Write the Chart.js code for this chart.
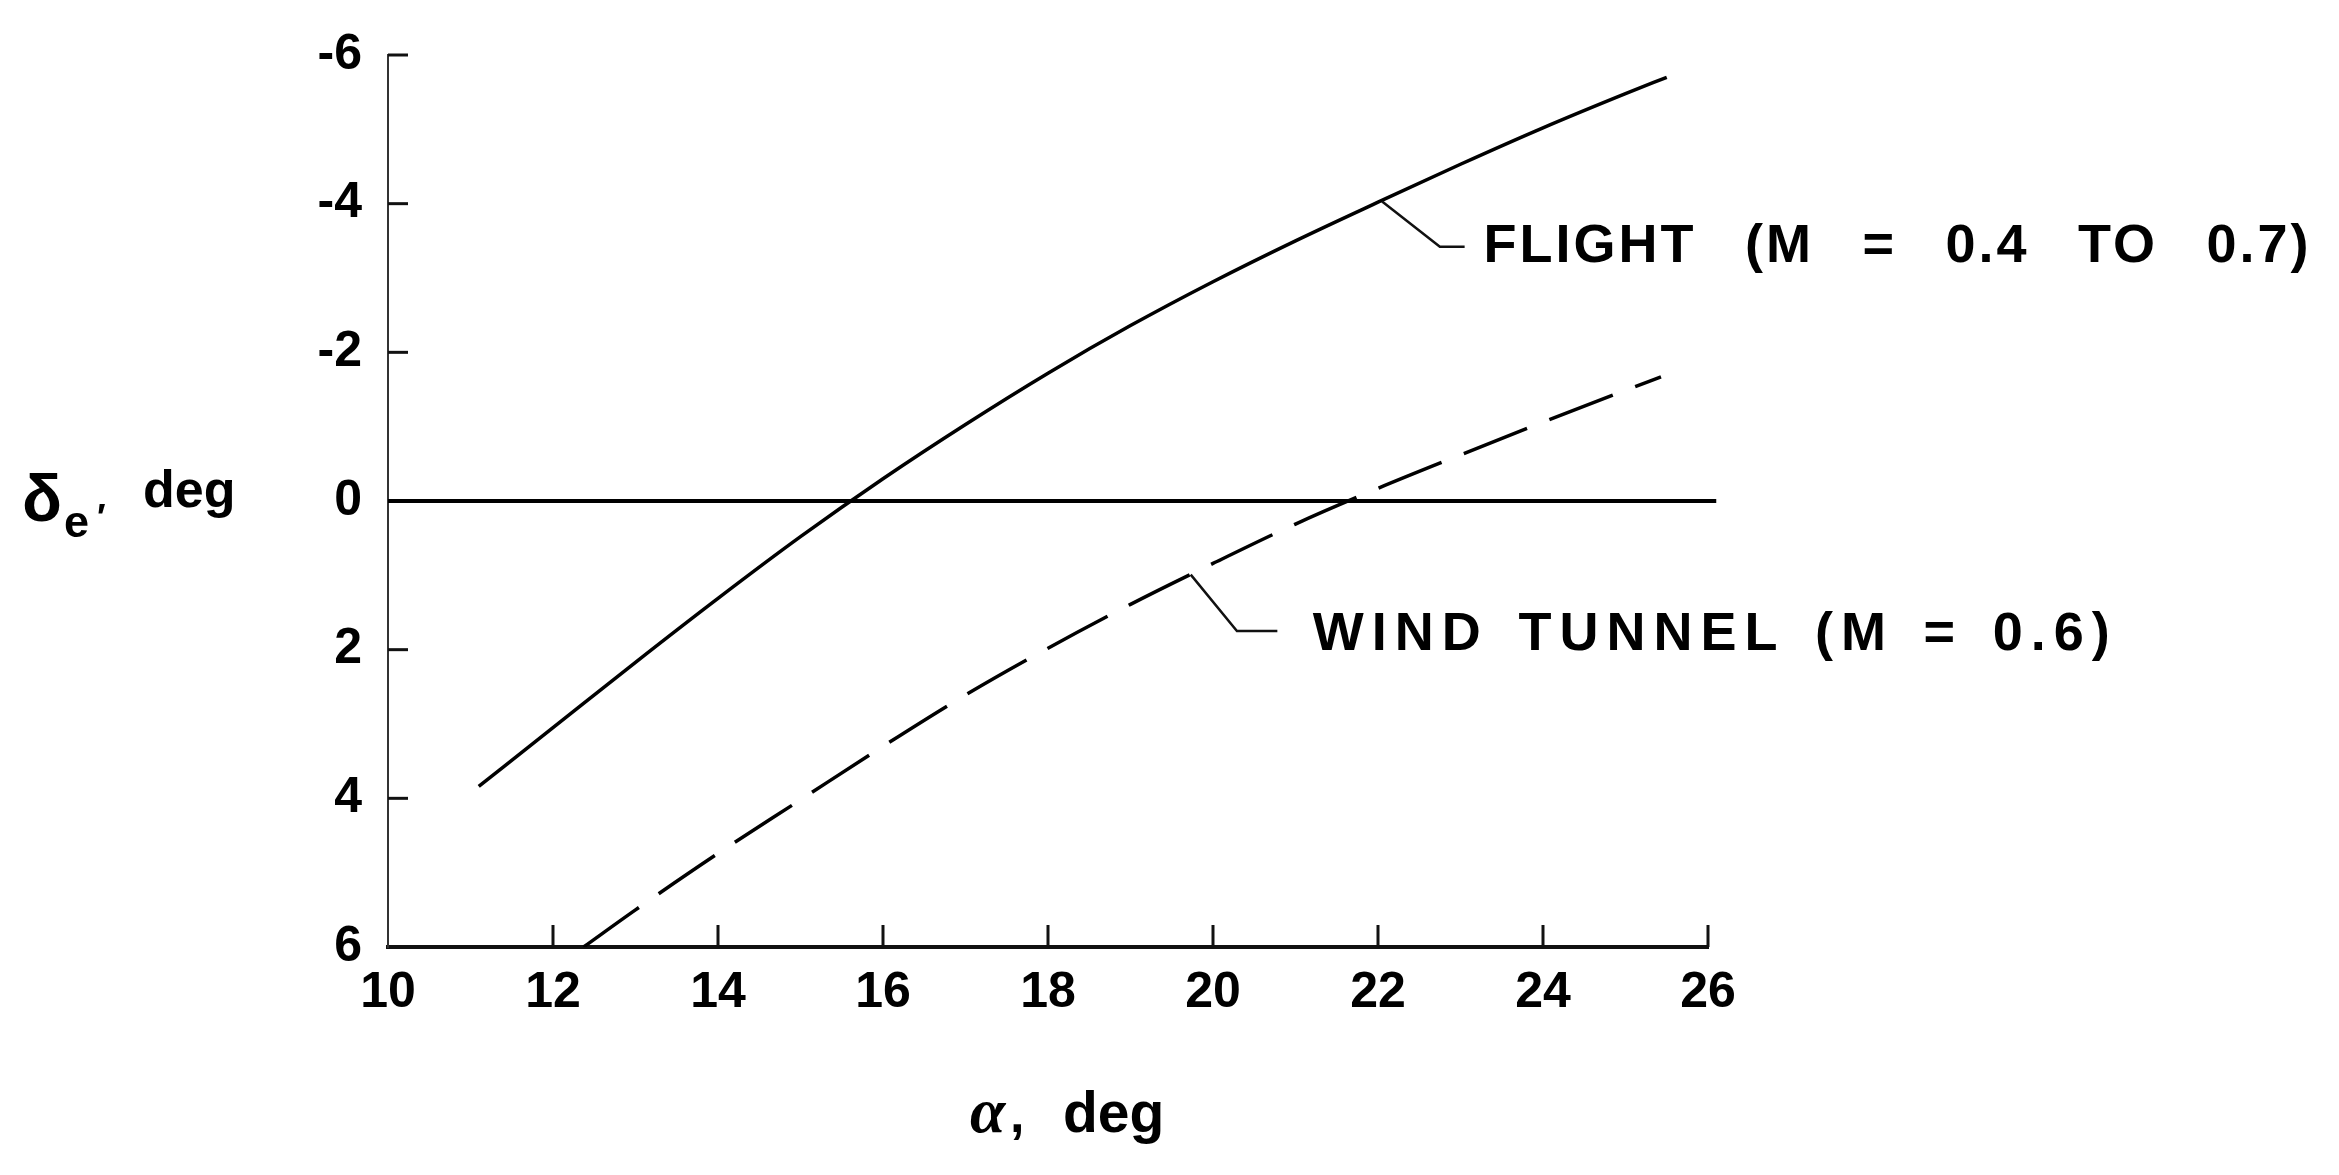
<!doctype html>
<html>

<head>
    <title>Elevator deflection vs angle of attack</title>
    <script src="https://cdn.jsdelivr.net/npm/chart.js@4/dist/chart.umd.min.js"></script>
    <style>
    html, body { margin: 0; padding: 0; background: #fff; }
    canvas { display: block; }
    </style>
</head>

<body>
    <canvas id="myChart" width="2339" height="1175"></canvas>
    <script>
    // angle of attack (deg) and elevator deflection (deg)
    var flightAlpha = [11.1, 12, 13, 14, 15, 16, 17, 18, 19, 20, 21, 22, 23, 24, 25, 25.5];
    var flightDelta = [3.84, 3.05, 2.17, 1.31, 0.48, -0.3, -1.03, -1.72, -2.36, -2.95, -3.5, -4.02, -4.53, -5.02, -5.48, -5.7];
    var tunnelAlpha = [12.37, 13, 14, 15, 16, 17, 18, 19, 20, 21, 22, 23, 24, 25, 25.43];
    var tunnelDelta = [6.0, 5.5, 4.74, 4.02, 3.3, 2.61, 1.98, 1.39, 0.84, 0.31, -0.17, -0.62, -1.06, -1.49, -1.67];
    var zeroAlpha = [10, 26.1];
    var zeroDelta = [0, 0];
    var xTicks = [10, 12, 14, 16, 18, 20, 22, 24, 26];
    var yTicks = [-6, -4, -2, 0, 2, 4, 6];

    var flightLabel = "FLIGHT (M = 0.4 TO 0.7)";
    var tunnelLabel = "WIND TUNNEL (M = 0.6)";

    var FONT = "'Liberation Sans', Arial, sans-serif";
    var SERIF = "'Liberation Serif', 'DejaVu Serif', serif";

    function toPoints(xs, ys) {
        return xs.map(function(x, i) { return {x: x, y: ys[i]}; });
    }

    // draws text with some letter spacing and wide word gaps, fitted to a width
    function spacedText(ctx, text, x, y, width, spacing) {
        ctx.letterSpacing = spacing + 'px';
        ctx.wordSpacing = '0px';
        var w = ctx.measureText(text).width;
        var spaces = text.split(' ').length - 1;
        ctx.wordSpacing = Math.max(0, (width - w) / spaces) + 'px';
        ctx.fillText(text, x, y);
        ctx.letterSpacing = '0px';
        ctx.wordSpacing = '0px';
    }

    var overlay = {
        id: 'overlay',
        afterDraw: function(chart) {
            var ctx = chart.ctx, xs = chart.scales.x, ys = chart.scales.y;
            ctx.save();
            ctx.strokeStyle = '#111';
            ctx.fillStyle = '#000';
            ctx.lineCap = 'butt';

            // inward tick marks
            ctx.lineWidth = 3;
            xTicks.forEach(function(v) {
                if (v === xTicks[0]) return;
                var px = xs.getPixelForValue(v);
                ctx.beginPath();
                ctx.moveTo(px, ys.bottom);
                ctx.lineTo(px, ys.bottom - 22);
                ctx.stroke();
            });
            yTicks.forEach(function(v) {
                if (v === yTicks[yTicks.length - 1] || v === 0) return;
                var py = ys.getPixelForValue(v);
                ctx.beginPath();
                ctx.moveTo(xs.left, py);
                ctx.lineTo(xs.left + 20, py);
                ctx.stroke();
            });

            // y axis label: delta_e', deg
            ctx.textAlign = 'left';
            ctx.textBaseline = 'alphabetic';
            ctx.font = 'bold 66px ' + FONT;
            ctx.fillText('\u03b4', 22, 521);
            ctx.font = 'bold 45px ' + FONT;
            ctx.fillText('e', 64, 537);
            ctx.font = 'bold 36px ' + FONT;
            ctx.fillText('\u2032', 97, 530);
            ctx.font = 'bold 52px ' + FONT;
            ctx.fillText('deg', 143, 507);

            // x axis label: alpha, deg
            ctx.font = 'bold italic 64px ' + SERIF;
            ctx.fillText('\u03b1', 970, 1132);
            ctx.font = 'bold 52px ' + FONT;
            ctx.fillText(',', 1010, 1132);
            ctx.font = 'bold 57px ' + FONT;
            ctx.fillText('deg', 1063, 1132);

            // leader lines
            ctx.lineWidth = 2.5;
            ctx.beginPath();
            ctx.moveTo(xs.getPixelForValue(22.05), ys.getPixelForValue(-4.03));
            ctx.lineTo(xs.getPixelForValue(22.75), ys.getPixelForValue(-3.42));
            ctx.lineTo(xs.getPixelForValue(23.05), ys.getPixelForValue(-3.42));
            ctx.stroke();
            ctx.beginPath();
            ctx.moveTo(xs.getPixelForValue(19.73), ys.getPixelForValue(0.99));
            ctx.lineTo(xs.getPixelForValue(20.29), ys.getPixelForValue(1.75));
            ctx.lineTo(xs.getPixelForValue(20.78), ys.getPixelForValue(1.75));
            ctx.stroke();

            // curve labels
            ctx.font = 'bold 54px ' + FONT;
            ctx.textBaseline = 'middle';
            spacedText(ctx, flightLabel, xs.getPixelForValue(23.28), ys.getPixelForValue(-3.42), 828, 3);
            spacedText(ctx, tunnelLabel, xs.getPixelForValue(21.21), ys.getPixelForValue(1.8), 805, 8);
            ctx.restore();
        }
    };

    function drawGraph() {
        var ctx = document.getElementById('myChart').getContext('2d');
        var tickFont = {family: FONT, size: 50, weight: 'bold'};
        var chart = new Chart(ctx, {
            type: 'line',
            data: {
                datasets: [{
                    label: 'zero',
                    data: toPoints(zeroAlpha, zeroDelta),
                    borderColor: '#000',
                    borderWidth: 4,
                    pointRadius: 0,
                    clip: false
                }, {
                    label: flightLabel,
                    data: toPoints(flightAlpha, flightDelta),
                    borderColor: '#000',
                    borderWidth: 3.5,
                    pointRadius: 0,
                    cubicInterpolationMode: 'monotone'
                }, {
                    label: tunnelLabel,
                    data: toPoints(tunnelAlpha, tunnelDelta),
                    borderColor: '#000',
                    borderWidth: 3.5,
                    borderDash: [68, 24],
                    pointRadius: 0,
                    cubicInterpolationMode: 'monotone'
                }]
            },
            options: {
                responsive: false,
                animation: false,
                events: [],
                layout: { padding: { left: 0, right: 631, top: 55, bottom: 31 } },
                plugins: {
                    legend: { display: false },
                    tooltip: { enabled: false }
                },
                scales: {
                    x: {
                        type: 'linear',
                        min: 10,
                        max: 26,
                        ticks: { stepSize: 2, color: '#000', font: tickFont, padding: 8, maxRotation: 0 },
                        grid: { display: false },
                        border: { display: true, color: '#111', width: 4 },
                        afterFit: function(s) { s.height = 197; }
                    },
                    y: {
                        type: 'linear',
                        min: -6,
                        max: 6,
                        reverse: true,
                        ticks: { stepSize: 2, color: '#000', font: tickFont, padding: 18 },
                        grid: { display: false },
                        border: { display: true, color: '#333', width: 2 },
                        afterFit: function(s) { s.width = 388; }
                    }
                }
            },
            plugins: [overlay]
        });
    }

    window.onload = function() {
        drawGraph();
    };
    </script>
</body>

</html>
